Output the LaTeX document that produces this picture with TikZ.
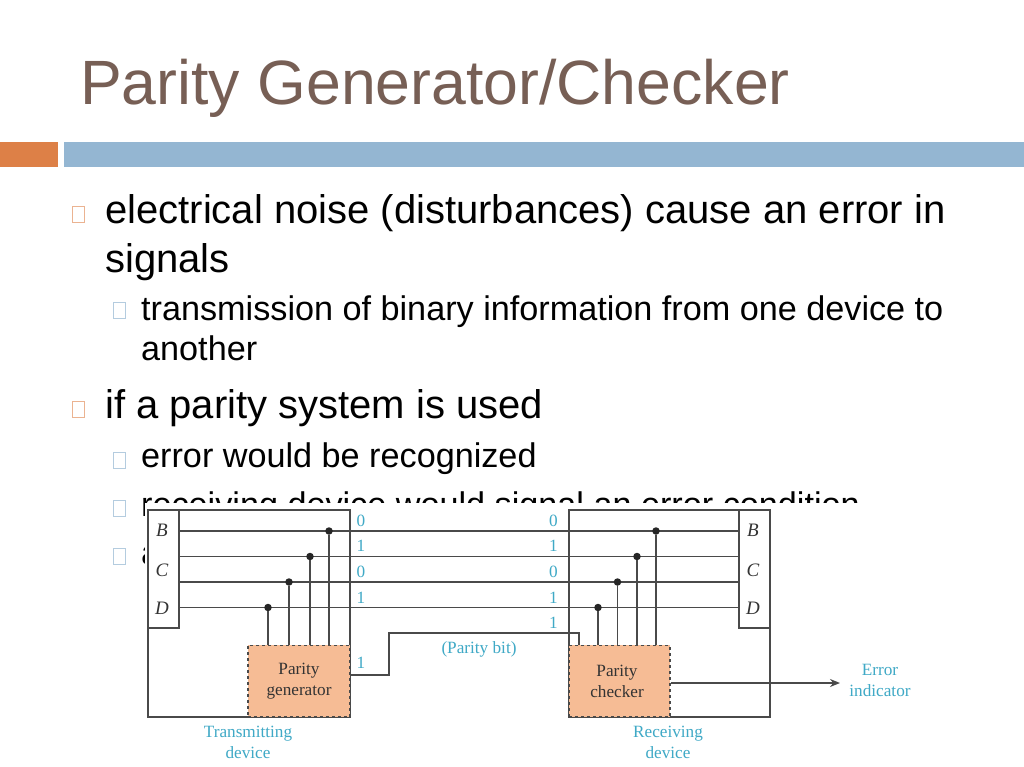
\documentclass[tikz,border=0pt]{standalone}
\usepackage{fontspec}
\setmainfont{Liberation Sans}
\newfontfamily\figfont{Liberation Serif}
\usetikzlibrary{arrows.meta}
\definecolor{titlebrown}{HTML}{775F55}
\definecolor{barorange}{HTML}{DD8047}
\definecolor{barblue}{HTML}{94B6D2}
\definecolor{labelblue}{HTML}{3FA9C6}
\definecolor{boxpeach}{HTML}{F6BC95}
\definecolor{wiregray}{HTML}{4A4A4A}
\tikzset{
	titletext/.style={
		% The text:
		anchor=base west,inner sep=0pt,text=titlebrown,
		font=\fontsize{62.6}{62.6}\selectfont,
	}}
\tikzset{
	bigtext/.style={anchor=base west,inner sep=0pt,font=\fontsize{40}{40}\selectfont},
	smalltext/.style={anchor=base west,inner sep=0pt,font=\fontsize{34.2}{34.2}\selectfont},
	orangebullet/.style={draw=barorange!60,line width=0.8pt,fill=white,anchor=north west,
		inner sep=0pt,minimum width=12pt,minimum height=16pt},
	bluebullet/.style={draw=barblue!70,line width=0.8pt,fill=white,anchor=north west,
		inner sep=0pt,minimum width=12pt,minimum height=16pt},
}
\tikzset{
	device/.style={
		% The shape:
		rectangle,anchor=north west,inner sep=0pt,
		% The border:
		draw=wiregray,line width=1.5pt,
	},
	logicbox/.style={device,dashed,fill=boxpeach},
	logictext/.style={inner sep=0pt,align=center,text=black!80,
		font=\figfont\fontsize{17.2}{21}\selectfont},
	portbox/.style={device,fill=white},
	portname/.style={inner sep=0pt,text=black!80,font=\figfont\itshape\fontsize{19}{19}\selectfont},
	bitlabel/.style={inner sep=0pt,align=center,text=labelblue,font=\figfont\fontsize{17.2}{21.5}\selectfont},
	wire/.style={draw=wiregray,line width=1.5pt},
	joint/.style={circle,fill=black!85,inner sep=0pt,minimum size=7.5pt},
}
\begin{document}
\begin{tikzpicture}[x=1pt,y=-1pt]
	\useasboundingbox (0,0) rectangle (1024,767);
	\fill[white] (0,0) rectangle (1024,767);
	% slide head
	\node[titletext] (title) at (80,105) {Parity Generator/Checker};
	\node[fill=barorange,anchor=north west,inner sep=0pt,minimum width=58pt,minimum height=25pt] (barleft) at (0,142) {};
	\node[fill=barblue,anchor=north west,inner sep=0pt,minimum width=960pt,minimum height=25pt] (barright) at (64,142) {};
	% slide text
	\node[orangebullet] (b1) at (71.5,206) {};
	\node[bigtext] (l1) at (105,223.5) {electrical noise (disturbances) cause an error in};
	\node[bigtext] (l2) at (105,272) {signals};
	\node[bluebullet] (b2) at (113,302) {};
	\node[smalltext] (l3) at (141,320) {transmission of binary information from one device to};
	\node[smalltext] (l4) at (141,360) {another};
	\node[orangebullet] (b3) at (71.5,401) {};
	\node[bigtext] (l5) at (105,418.5) {if a parity system is used};
	\node[bluebullet] (b4) at (113,452) {};
	\node[smalltext] (l6) at (141,467) {error would be recognized};
	\node[bluebullet] (b5) at (113,500) {};
	\node[smalltext] (l7) at (141,516) {receiving device would signal an error condition};
	\node[bluebullet] (b6) at (113,548) {};
	\node[smalltext] (l8) at (141,564) {a};
	% the figure lies over the text
	\fill[white] (144.5,503) rectangle (930,767);
	% the two devices
	\node[device,minimum width=202pt,minimum height=207pt] (txdev) at (147,509) {};
	\node[device,minimum width=201pt,minimum height=207pt] (rxdev) at (568,509) {};
	\node[portbox,minimum width=31pt,minimum height=118pt] (txport) at (147,509) {};
	\node[portbox,minimum width=31pt,minimum height=118pt] (rxport) at (738,509) {};
	\node[logicbox,minimum width=102pt,minimum height=71.5pt] (gen) at (247,644.5) {};
	\node[logicbox,minimum width=101pt,minimum height=71.5pt] (chk) at (568,644.5) {};
	\node[logictext] (genname) at (299,681) {Parity\\generator};
	\node[logictext] (chkname) at (617,681) {Parity\\checker};
	\node[portname] (txB) at (162,530.5) {B};
	\node[portname] (txC) at (162,570) {C};
	\node[portname] (txD) at (162,608) {D};
	\node[portname] (rxB) at (753,530.5) {B};
	\node[portname] (rxC) at (753,570) {C};
	\node[portname] (rxD) at (753,608) {D};
	% data lines
	\coordinate (w1) at (txport.east |- 0,531);
	\coordinate (w2) at (txport.east |- 0,556.5);
	\coordinate (w3) at (txport.east |- 0,582);
	\coordinate (w4) at (txport.east |- 0,607.5);
	\draw[wire] (w1) -- (rxport.west |- w1);
	\draw[wire] (w2) -- (rxport.west |- w2);
	\draw[wire] (w3) -- (rxport.west |- w3);
	\draw[wire] (w4) -- (rxport.west |- w4);
	% taps into the generator
	\node[joint] (g1) at (329,531) {};
	\node[joint] (g2) at (310,556.5) {};
	\node[joint] (g3) at (289,582) {};
	\node[joint] (g4) at (268,607.5) {};
	\draw[wire] (g1) -- (g1 |- gen.north);
	\draw[wire] (g2) -- (g2 |- gen.north);
	\draw[wire] (g3) -- (g3 |- gen.north);
	\draw[wire] (g4) -- (g4 |- gen.north);
	% taps into the checker
	\node[joint] (c1) at (656,531) {};
	\node[joint] (c2) at (637,556.5) {};
	\node[joint] (c3) at (617.5,582) {};
	\node[joint] (c4) at (598,607.5) {};
	\draw[wire] (c1) -- (c1 |- chk.north);
	\draw[wire] (c2) -- (c2 |- chk.north);
	\draw[wire] (c3) -- (c3 |- chk.north);
	\draw[wire] (c4) -- (c4 |- chk.north);
	% parity line and output
	\coordinate (pout) at (gen.east |- 0,675);
	\coordinate (pin) at (579,644.5);
	\draw[wire] (pout) -- (389,675) -- (389,633) -- (579,633) -- (pin);
	\node[bitlabel] (err) at (880,680.5) {Error\\indicator};
	\coordinate (errtip) at (840,683);
	\draw[wire,-{Stealth[length=10pt,width=8pt]}] (chk.east |- errtip) -- (errtip);
	% bit values
	\node[bitlabel] (tx0) at (361,521) {0};
	\node[bitlabel] (tx1) at (361,546) {1};
	\node[bitlabel] (tx2) at (361,572) {0};
	\node[bitlabel] (tx3) at (361,598) {1};
	\node[bitlabel] (txp) at (361,663) {1};
	\node[bitlabel] (rx0) at (553.5,521) {0};
	\node[bitlabel] (rx1) at (553.5,546) {1};
	\node[bitlabel] (rx2) at (553.5,572) {0};
	\node[bitlabel] (rx3) at (553.5,598) {1};
	\node[bitlabel] (rxp) at (553.5,623) {1};
	\node[bitlabel] (pbit) at (479,649.5) {(Parity bit)};
	\node[bitlabel] (txname) at (248,742.5) {Transmitting\\device};
	\node[bitlabel] (rxname) at (668,742.5) {Receiving\\device};
\end{tikzpicture}
\end{document}
